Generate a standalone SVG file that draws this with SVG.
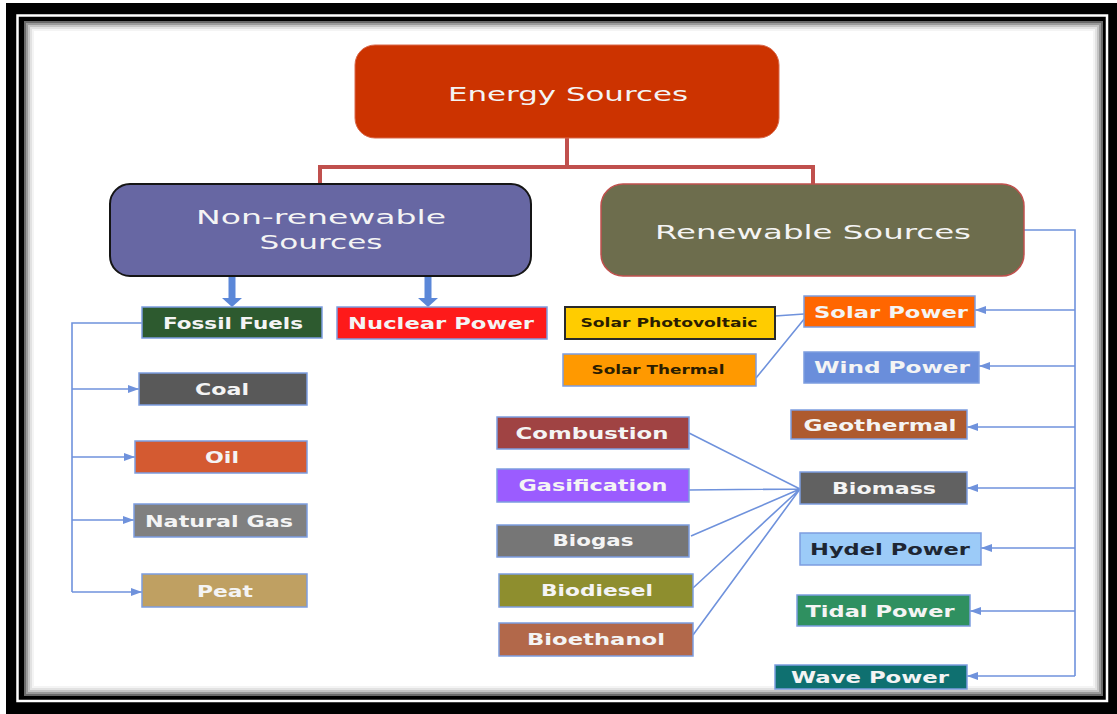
<svg xmlns="http://www.w3.org/2000/svg" width="1117" height="714" viewBox="0 0 1117 714">
<defs>
<style>
.lbl{font-family:"DejaVu Sans","Liberation Sans",sans-serif;font-weight:bold;font-size:16.5px;fill:#f4f4f4;text-anchor:middle}
.big{font-family:"DejaVu Sans","Liberation Sans",sans-serif;font-size:20px;fill:#f4f4f4;text-anchor:middle}
.sm{font-family:"DejaVu Sans","Liberation Sans",sans-serif;font-weight:bold;font-size:12px;fill:#2b1d00;text-anchor:middle}
.box{stroke:#7c9de0;stroke-width:1.5}
.ln{fill:none;stroke:#6f92dc;stroke-width:1.6}
.red{fill:none;stroke:#c0504d;stroke-width:4}
</style>
<marker id="ah" markerUnits="userSpaceOnUse" markerWidth="12" markerHeight="10" refX="11" refY="5" orient="auto">
<path d="M0,1 L11,5 L0,9 Z" fill="#6f92dc"/>
</marker>
</defs>
<!-- frame -->
<rect x="0" y="0" width="1117" height="714" fill="#ffffff"/>
<rect x="6" y="3" width="1111" height="711" fill="#000000"/>
<rect x="17.5" y="15.5" width="1089.5" height="685.5" fill="none" stroke="#ffffff" stroke-width="2.5"/>
<rect x="24" y="21" width="1079" height="675" fill="#ffffff"/>
<g fill="none">
<rect x="25" y="22" width="1077" height="673" stroke="#6a6a6a" stroke-width="2"/>
<rect x="27" y="24" width="1073" height="669" stroke="#9a9a9a" stroke-width="2"/>
<rect x="29" y="26" width="1069" height="665" stroke="#c4c4c4" stroke-width="2"/>
<rect x="31" y="28" width="1065" height="661" stroke="#e2e2e2" stroke-width="2"/>
<rect x="33" y="30" width="1061" height="657" stroke="#f4f4f4" stroke-width="2"/>
</g>

<g id="connectors">
<path class="red" d="M567,138 V167 M320,184 V167 H813 V184"/>
<path d="M232,277 V299" stroke="#5b87d8" stroke-width="7" fill="none"/>
<path d="M222,298 L242,298 L232,307 Z" fill="#5b87d8"/>
<path d="M428,277 V299" stroke="#5b87d8" stroke-width="7" fill="none"/>
<path d="M418,298 L438,298 L428,307 Z" fill="#5b87d8"/>
<path class="ln" d="M142,323 H72 V592"/>
<path class="ln" d="M72,389 H139" marker-end="url(#ah)"/>
<path class="ln" d="M72,457 H135" marker-end="url(#ah)"/>
<path class="ln" d="M72,520 H134" marker-end="url(#ah)"/>
<path class="ln" d="M72,592 H142" marker-end="url(#ah)"/>
<path class="ln" d="M1024,230 H1075 V676"/>
<path class="ln" d="M1075,310 H975" marker-end="url(#ah)"/>
<path class="ln" d="M1075,366 H979" marker-end="url(#ah)"/>
<path class="ln" d="M1075,427 H967" marker-end="url(#ah)"/>
<path class="ln" d="M1075,488 H967" marker-end="url(#ah)"/>
<path class="ln" d="M1075,548 H981" marker-end="url(#ah)"/>
<path class="ln" d="M1075,611 H970" marker-end="url(#ah)"/>
<path class="ln" d="M1075,676 H967" marker-end="url(#ah)"/>
<path class="ln" d="M775,316 L804,314 M756,378 L805,318"/>
<path class="ln" d="M689,433 L800,489 M689,490 L800,489 M691,536 L800,489 M693,588 L800,489 M693,635 L800,489"/>
</g>

<g id="energy-sources">
<rect x="355" y="45" width="424" height="93" rx="20" fill="#cc3300" stroke="#d9684a" stroke-width="1"/>
<text class="big" x="568" y="101" textLength="240" lengthAdjust="spacingAndGlyphs">Energy Sources</text>
</g>
<g id="non-renewable">
<rect x="110" y="184" width="421" height="92" rx="20" fill="#6767a3" stroke="#151515" stroke-width="2"/>
<text class="big" x="321" y="224" textLength="250" lengthAdjust="spacingAndGlyphs">Non-renewable</text>
<text class="big" x="321" y="249" textLength="123" lengthAdjust="spacingAndGlyphs">Sources</text>
</g>
<g id="renewable">
<rect x="601" y="184" width="423" height="92" rx="22" fill="#6d6d4d" stroke="#c0504d" stroke-width="1.5"/>
<text class="big" x="813" y="239" textLength="316" lengthAdjust="spacingAndGlyphs">Renewable Sources</text>
</g>

<g id="fossil-fuels">
<rect class="box" x="142" y="307" width="180" height="31" fill="#2d5a2f"/>
<text class="lbl" x="233" y="329" textLength="140" lengthAdjust="spacingAndGlyphs">Fossil Fuels</text>
</g>
<g id="nuclear-power">
<rect class="box" x="337" y="307" width="210" height="32" fill="#fe1a1a"/>
<text class="lbl" x="441" y="329" textLength="186" lengthAdjust="spacingAndGlyphs">Nuclear Power</text>
</g>
<g id="coal">
<rect class="box" x="139" y="373" width="168" height="32" fill="#595959"/>
<text class="lbl" x="222" y="395" textLength="54" lengthAdjust="spacingAndGlyphs">Coal</text>
</g>
<g id="oil">
<rect class="box" x="135" y="441" width="172" height="32" fill="#d45a31"/>
<text class="lbl" x="222" y="463" textLength="34" lengthAdjust="spacingAndGlyphs">Oil</text>
</g>
<g id="natural-gas">
<rect class="box" x="134" y="504" width="173" height="33" fill="#808080"/>
<text class="lbl" x="219" y="527" textLength="148" lengthAdjust="spacingAndGlyphs">Natural Gas</text>
</g>
<g id="peat">
<rect class="box" x="142" y="574" width="165" height="33" fill="#bfa062"/>
<text class="lbl" x="225" y="597" textLength="56" lengthAdjust="spacingAndGlyphs">Peat</text>
</g>

<g id="solar-photovoltaic">
<rect x="565" y="307" width="210" height="32" fill="#ffcc00" stroke="#2a2a2a" stroke-width="2"/>
<text class="sm" x="669" y="327" textLength="177" lengthAdjust="spacingAndGlyphs">Solar Photovoltaic</text>
</g>
<g id="solar-thermal">
<rect class="box" x="563" y="354" width="193" height="32" fill="#ff9900"/>
<text class="sm" x="658" y="374" textLength="133" lengthAdjust="spacingAndGlyphs">Solar Thermal</text>
</g>
<g id="solar-power">
<rect class="box" x="804" y="296" width="171" height="31" fill="#ff6600"/>
<text class="lbl" x="891" y="318" textLength="154" lengthAdjust="spacingAndGlyphs">Solar Power</text>
</g>
<g id="wind-power">
<rect class="box" x="804" y="352" width="175" height="31" fill="#6a8edb"/>
<text class="lbl" x="892" y="373" textLength="156" lengthAdjust="spacingAndGlyphs">Wind Power</text>
</g>
<g id="geothermal">
<rect class="box" x="791" y="410" width="176" height="29" fill="#ae5a2e"/>
<text class="lbl" x="880" y="431" textLength="153" lengthAdjust="spacingAndGlyphs">Geothermal</text>
</g>
<g id="biomass">
<rect class="box" x="800" y="472" width="167" height="32" fill="#616161"/>
<text class="lbl" x="884" y="494" textLength="104" lengthAdjust="spacingAndGlyphs">Biomass</text>
</g>
<g id="hydel-power">
<rect class="box" x="800" y="533" width="181" height="32" fill="#9ccbf8"/>
<text class="lbl" x="890" y="555" textLength="160" lengthAdjust="spacingAndGlyphs" style="fill:#1e2633">Hydel Power</text>
</g>
<g id="tidal-power">
<rect class="box" x="797" y="595" width="173" height="31" fill="#2f9060"/>
<text class="lbl" x="880" y="617" textLength="149" lengthAdjust="spacingAndGlyphs">Tidal Power</text>
</g>
<g id="wave-power">
<rect class="box" x="775" y="665" width="192" height="24" fill="#0f7070"/>
<text class="lbl" x="870" y="683" textLength="158" lengthAdjust="spacingAndGlyphs">Wave Power</text>
</g>

<g id="combustion">
<rect class="box" x="497" y="417" width="192" height="32" fill="#a04343"/>
<text class="lbl" x="592" y="439" textLength="153" lengthAdjust="spacingAndGlyphs">Combustion</text>
</g>
<g id="gasification">
<rect class="box" x="497" y="469" width="192" height="33" fill="#9b5cff"/>
<text class="lbl" x="593" y="491" textLength="149" lengthAdjust="spacingAndGlyphs">Gasification</text>
</g>
<g id="biogas">
<rect class="box" x="497" y="525" width="192" height="32" fill="#767676"/>
<text class="lbl" x="593" y="546" textLength="81" lengthAdjust="spacingAndGlyphs">Biogas</text>
</g>
<g id="biodiesel">
<rect class="box" x="499" y="574" width="194" height="33" fill="#8e8e2e"/>
<text class="lbl" x="597" y="596" textLength="112" lengthAdjust="spacingAndGlyphs">Biodiesel</text>
</g>
<g id="bioethanol">
<rect class="box" x="499" y="623" width="194" height="33" fill="#b2684a"/>
<text class="lbl" x="596" y="645" textLength="138" lengthAdjust="spacingAndGlyphs">Bioethanol</text>
</g>
</svg>
